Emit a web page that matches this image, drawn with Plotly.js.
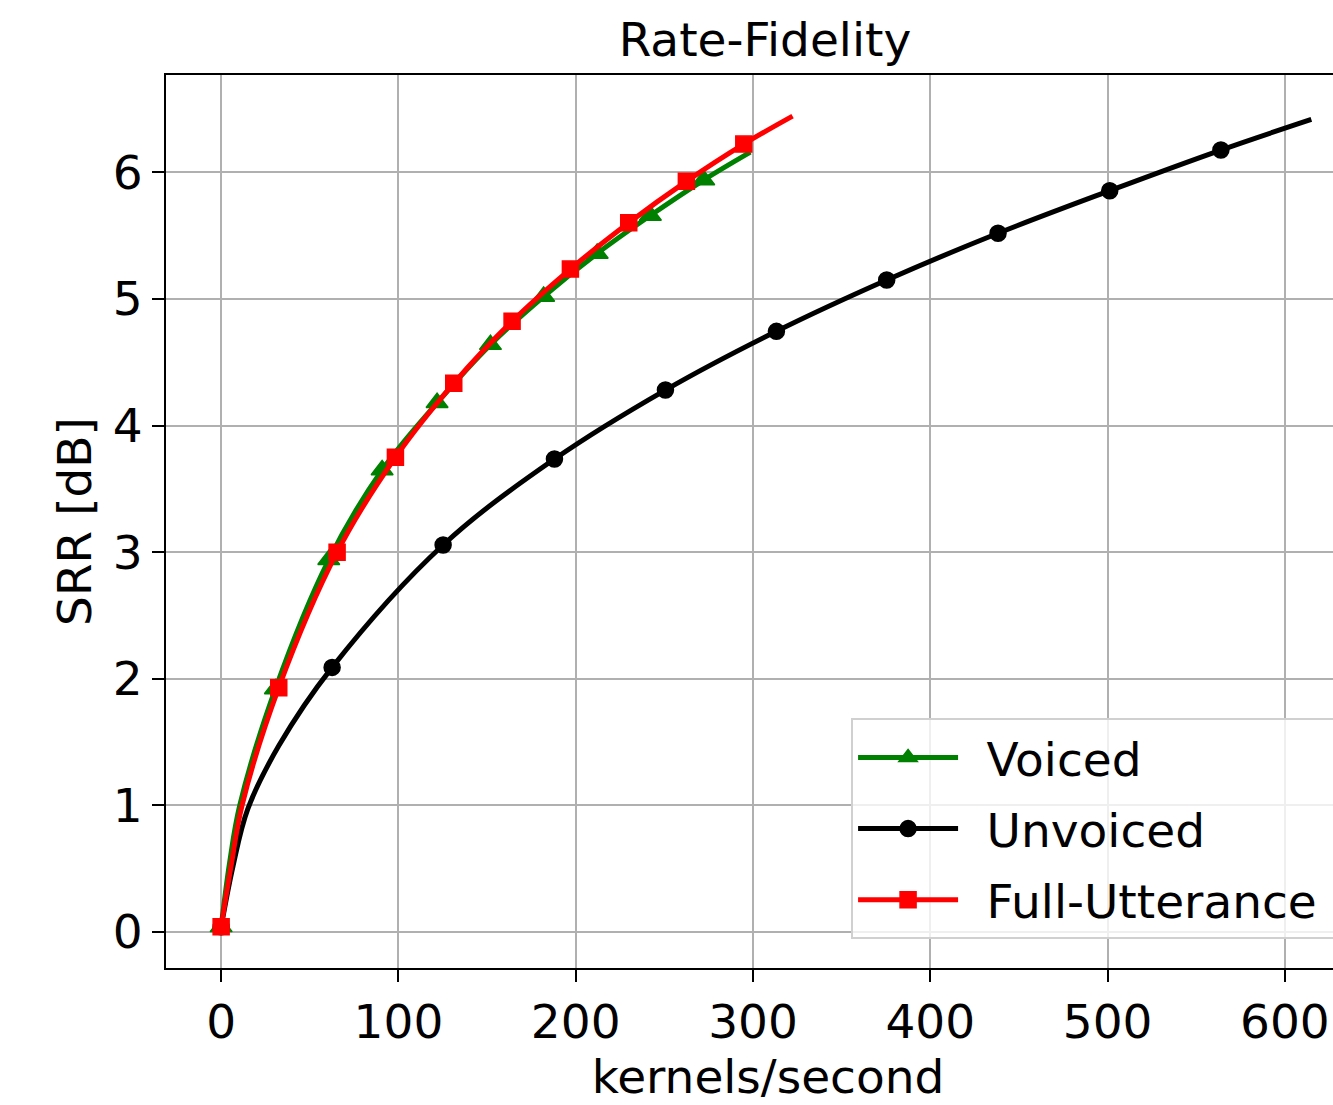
<!DOCTYPE html>
<html>
<head>
<meta charset="utf-8">
<script src="https://cdn.plot.ly/plotly-3.0.1.min.js"></script>
<style>
html, body { margin: 0; padding: 0; overflow: hidden; background: #fff; }
#chart { width: 1400px; height: 1105px; }
</style>
</head>
<body>
<div id="chart"></div>
<script>
// Series (kernels/second vs SRR dB)
const voicedX = [0, 4.8, 10.5, 30.6, 60.7, 90.8, 121.8, 151.9, 181.9, 212.1, 242.1, 272.2, 298.5];
const voicedY = [0.04, 0.55, 1.0, 1.92, 2.94, 3.65, 4.18, 4.64, 5.02, 5.36, 5.66, 5.94, 6.16];
const voicedMarkerIdx = [0, 3, 4, 5, 6, 7, 8, 9, 10, 11];

const unvoicedX = [0, 6.7, 15, 32.5, 62.6, 125.2, 188.0, 250.6, 313.2, 375.4, 438.2, 501.2, 563.9, 614.9];
const unvoicedY = [0.04, 0.52, 0.97, 1.47, 2.09, 3.057, 3.736, 4.281, 4.745, 5.15, 5.52, 5.856, 6.177, 6.419];
const unvoicedMarkerIdx = [0, 4, 5, 6, 7, 8, 9, 10, 11, 12];

const fullX = [0, 5.6, 11.8, 32.5, 65.4, 98.3, 131.2, 164.1, 197.0, 229.9, 262.4, 294.8, 322.3];
const fullY = [0.04, 0.52, 1.0, 1.93, 3.0, 3.75, 4.334, 4.824, 5.237, 5.603, 5.93, 6.224, 6.445];
const fullMarkerIdx = [0, 3, 4, 5, 6, 7, 8, 9, 10, 11];

const seriesNames = ["Voiced", "Unvoiced", "Full-Utterance"];
const xTickVals = [0, 100, 200, 300, 400, 500, 600];
const yTickVals = [0, 1, 2, 3, 4, 5, 6];

const FONT = "DejaVu Sans, Liberation Sans, sans-serif";
const FS = 47;

function series(name, x, y, idx, color, symbol, size) {
  return {
    type: "scatter",
    mode: "lines+markers",
    name: "\u2002" + name + "\u2002",
    legendgroup: name,
    x: x, y: y,
    line: { color: color, width: 5, shape: "spline", smoothing: 1 },
    marker: { color: color, symbol: symbol, size: size, line: { width: 1.5, color: color } },
    selectedpoints: idx,
    selected: { marker: { opacity: 1 } },
    unselected: { marker: { opacity: 0 } },
    cliponaxis: false
  };
}

const data = [
  series(seriesNames[0], voicedX, voicedY, voicedMarkerIdx, "#008000", "triangle-up", 19),
  series(seriesNames[1], unvoicedX, unvoicedY, unvoicedMarkerIdx, "#000000", "circle", 16),
  series(seriesNames[2], fullX, fullY, fullMarkerIdx, "#ff0000", "square", 16)
];

const axisCommon = {
  showline: true, mirror: true, linecolor: "#000", linewidth: 2,
  ticks: "outside", ticklen: 12, tickwidth: 2, tickcolor: "#000",
  showgrid: true, gridcolor: "#b0b0b0", gridwidth: 2,
  zeroline: false,
  tickfont: { family: FONT, size: FS, color: "#000" }
};

const layout = {
  width: 1400, height: 1105,
  margin: { l: 166, r: 30, t: 75, b: 137 },
  paper_bgcolor: "#fff", plot_bgcolor: "#fff",
  font: { family: FONT, size: FS, color: "#000" },
  title: { text: "Rate-Fidelity", x: 0.4975, xref: "paper", y: 0.964, yref: "container", yanchor: "middle",
           font: { family: FONT, size: FS, color: "#000" } },
  xaxis: Object.assign({}, axisCommon, {
    range: [-31.1, 648], tickvals: xTickVals, ticktext: xTickVals.map(String),
    title: { text: "kernels/second", standoff: 10, font: { family: FONT, size: FS, color: "#000" } }
  }),
  yaxis: Object.assign({}, axisCommon, {
    range: [-0.285, 6.77], tickvals: yTickVals, ticktext: yTickVals.map(String),
    title: { text: "SRR [dB]", standoff: 6, font: { family: FONT, size: FS, color: "#000" } }
  }),
  showlegend: true,
  legend: {
    x: 0.569, y: 0.032, xanchor: "left", yanchor: "bottom",
    bgcolor: "rgba(255,255,255,0.8)", bordercolor: "#d0d0d0", borderwidth: 2,
    font: { family: FONT, size: FS, color: "#000" },
    itemwidth: 100, tracegroupgap: 7, traceorder: "grouped"
  }
};

Plotly.newPlot("chart", data, layout, { displayModeBar: false, staticPlot: true });
</script>
</body>
</html>
